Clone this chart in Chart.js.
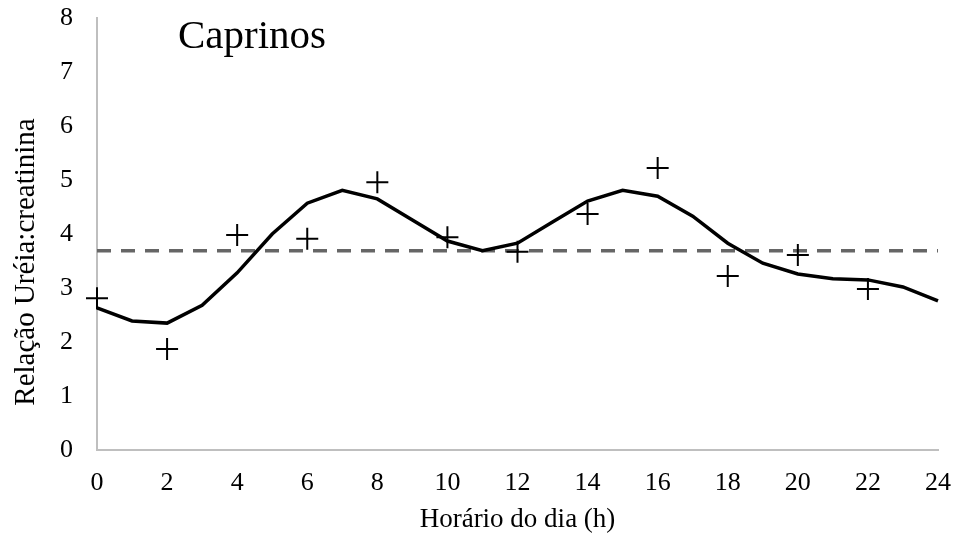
<!DOCTYPE html>
<html>
<head>
<meta charset="utf-8">
<script src="https://cdn.jsdelivr.net/npm/chart.js@4/dist/chart.umd.min.js"></script>
<style>
  html, body { margin: 0; padding: 0; background: #fff; }
  #wrap { width: 962px; height: 542px; }
</style>
</head>
<body>
<div id="wrap"><canvas id="grafico"></canvas></div>
<script>
// Horas (linha ajustada, de hora em hora)
const horasLinha = [0,1,2,3,4,5,6,7,8,9,10,11,12,13,14,15,16,17,18,19,20,21,22,23,24];
const valoresLinha = [2.63,2.39,2.35,2.68,3.28,4.00,4.57,4.81,4.65,4.26,3.87,3.69,3.83,4.22,4.61,4.81,4.70,4.33,3.83,3.46,3.26,3.17,3.15,3.02,2.76];

// Valores observados (cruzes)
const horasObs = [0,2,4,6,8,10,12,14,16,18,20,22];
const valoresObs = [2.81,1.87,3.98,3.91,4.96,3.94,3.67,4.37,5.22,3.22,3.61,2.98];

// Média (linha tracejada)
const media = 3.69;

const fonteSerif = "'Liberation Serif', 'DejaVu Serif', serif";

// Título "Caprinos" dentro da área e título do eixo Y (um pouco abaixo do centro, como no original)
const textosExtras = {
    id: 'textosExtras',
    afterDraw(chart) {
        const ctx = chart.ctx;
        const area = chart.chartArea;
        ctx.save();
        ctx.fillStyle = '#000';
        ctx.font = "41px " + fonteSerif;
        ctx.textBaseline = 'alphabetic';
        ctx.fillText('Caprinos', area.left + 81, area.top + 30);

        ctx.font = "29px " + fonteSerif;
        ctx.textAlign = 'center';
        ctx.textBaseline = 'middle';
        ctx.translate(26, (area.top + area.bottom) / 2 + 28);
        ctx.rotate(-Math.PI / 2);
        ctx.fillText('Relação Uréia:creatinina', 0, 0);
        ctx.restore();
    }
};

new Chart(document.getElementById('grafico').getContext('2d'), {
    type: 'scatter',
    plugins: [textosExtras],
    data: {
        datasets: [
            {
                type: 'line',
                data: horasLinha.map((h, i) => ({ x: h, y: valoresLinha[i] })),
                borderColor: '#000',
                borderWidth: 3.5,
                pointRadius: 0,
                tension: 0,
                clip: false,
                order: 2
            },
            {
                type: 'line',
                data: [{ x: 0, y: media }, { x: 24, y: media }],
                borderColor: '#666',
                borderWidth: 3.5,
                borderDash: [14, 10],
                pointRadius: 0,
                clip: false,
                order: 3
            },
            {
                data: horasObs.map((h, i) => ({ x: h, y: valoresObs[i] })),
                pointStyle: 'cross',
                pointRadius: 11,
                borderColor: '#000',
                borderWidth: 2,
                clip: false,
                order: 1
            }
        ]
    },
    options: {
        responsive: true,
        maintainAspectRatio: false,
        animation: false,
        layout: { autoPadding: false, padding: { top: 18, right: 24, left: 10, bottom: 4 } },
        plugins: {
            legend: { display: false },
            tooltip: { enabled: false }
        },
        scales: {
            x: {
                type: 'linear',
                min: 0, max: 24,
                grid: { display: false, drawTicks: false },
                border: { color: '#bfbfbf', width: 2 },
                afterFit: (escala) => {
                    escala.height = 88;
                    escala.paddingLeft = 0;
                    escala.paddingRight = 0;
                },
                ticks: {
                    stepSize: 2,
                    padding: 18,
                    maxRotation: 0,
                    minRotation: 0,
                    color: '#000',
                    font: { family: fonteSerif, size: 26 }
                },
                title: {
                    display: true,
                    text: 'Horário do dia (h)',
                    color: '#000',
                    padding: { top: 0, bottom: 2 },
                    font: { family: fonteSerif, size: 27 }
                }
            },
            y: {
                min: 0, max: 8,
                grid: { display: false, drawTicks: false },
                border: { color: '#bfbfbf', width: 2 },
                afterFit: (escala) => {
                    escala.width = 87;
                    escala.paddingTop = 0;
                    escala.paddingBottom = 0;
                },
                ticks: {
                    stepSize: 1,
                    padding: 24,
                    color: '#000',
                    font: { family: fonteSerif, size: 26 }
                },
                title: { display: false }
            }
        }
    }
});
</script>
</body>
</html>
